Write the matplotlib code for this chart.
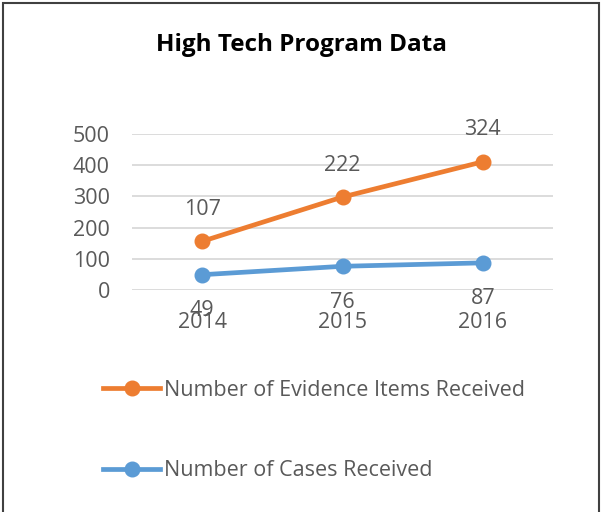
import matplotlib
matplotlib.use("Agg")
import matplotlib.pyplot as plt
from matplotlib.patches import Rectangle
from matplotlib.lines import Line2D
import numpy as np

years = ["2014", "2015", "2016"]
cases = [49, 76, 87]
evidence = [107, 222, 324]
yticks = [0, 100, 200, 300, 400, 500]
title = "High Tech Program Data"
name_evidence = "Number of Evidence Items Received"
name_cases = "Number of Cases Received"

ORANGE = "#ED7D31"
BLUE = "#5B9BD5"
TXT = "#595959"
GRID = "#D9D9D9"
FS = 15.5

plt.rcParams['font.family'] = ['Open Sans', 'DejaVu Sans']

fig = plt.figure(figsize=(6.02, 5.12), dpi=100)
W, H = 602, 512
ax = fig.add_axes([132 / W, (H - 290) / H, (553 - 132) / W, 156 / H])

x = np.arange(len(years))
stacked = np.array(cases) + np.array(evidence)

ax.plot(x, cases, color=BLUE, lw=3.4, marker='o', ms=10.5, solid_capstyle='round', zorder=3)
ax.plot(x, stacked, color=ORANGE, lw=3.4, marker='o', ms=10.5, solid_capstyle='round', zorder=3)

for xi, yv, lab in zip(x, stacked, evidence):
    ax.annotate(str(lab), (xi, yv), xytext=(0, 32), textcoords='offset pixels',
                ha='center', va='center', fontsize=FS, color=TXT)
for xi, yv, lab in zip(x, cases, cases):
    ax.annotate(str(lab), (xi, yv), xytext=(0, -36), textcoords='offset pixels',
                ha='center', va='center', fontsize=FS, color=TXT)

ax.set_xlim(-0.5, 2.5)
ax.set_ylim(0, 500)
ax.set_yticks(yticks)
ax.set_yticklabels([str(v) for v in yticks])
ax.set_xticks(x)
ax.set_xticklabels(years)
ax.tick_params(axis='both', length=0, labelsize=FS, labelcolor=TXT)
ax.tick_params(axis='y', pad=16)
ax.tick_params(axis='x', pad=16)
for s in ax.spines.values():
    s.set_visible(False)
ax.grid(axis='y', color=GRID, lw=1.3)
ax.set_axisbelow(True)

fig.text(0.5, (H - 45) / H, title, ha='center', va='center', fontsize=17.5,
         fontweight='bold', color='black')

handles = [Line2D([], [], color=ORANGE, lw=3.4, marker='o', ms=10.5),
           Line2D([], [], color=BLUE, lw=3.4, marker='o', ms=10.5)]
leg = fig.legend(handles, [name_evidence, name_cases], loc='upper left',
                 bbox_to_anchor=(103 / W, (H - 380) / H), frameon=False,
                 fontsize=FS, labelcolor=TXT, labelspacing=2.75,
                 handlelength=2.65, handletextpad=0.19, borderaxespad=0, borderpad=0)

fig.add_artist(Rectangle((2.5 / W, -0.05), (599 - 2.5) / W, 1.05 - 2.5 / H,
                         transform=fig.transFigure, fill=False,
                         edgecolor='#404040', lw=1.5))

fig.savefig("out.png", dpi=100)
